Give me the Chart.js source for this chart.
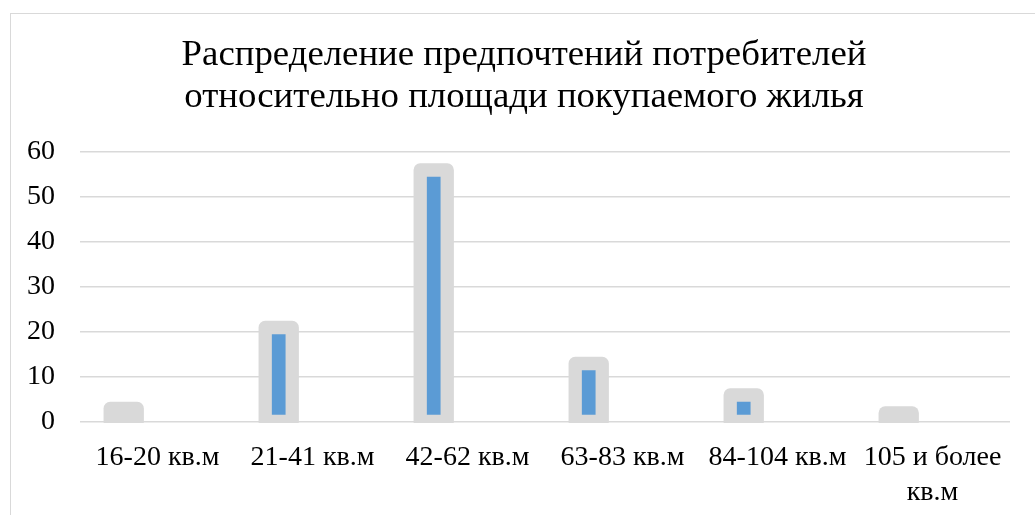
<!DOCTYPE html>
<html>
<head>
<meta charset="utf-8">
<script src="https://cdn.jsdelivr.net/npm/chart.js@4/dist/chart.umd.min.js"></script>
<style>
  html, body { margin: 0; padding: 0; background: #fff; }
  #wrap { position: relative; width: 1035px; height: 515px; overflow: hidden; }
  #frame { position: absolute; left: 10px; top: 13px; width: 1100px; height: 600px;
           border: 1.5px solid #d9d9d9; box-sizing: border-box; }
  #c { position: absolute; left: 0; top: 0; }
</style>
</head>
<body>
<div id="wrap">
  <div id="frame"></div>
  <canvas id="c" width="1035" height="515"></canvas>
</div>
<script>
const titleLines = ['Распределение предпочтений потребителей', 'относительно площади покупаемого жилья'];
const categories = ['16-20 кв.м', '21-41 кв.м', '42-62 кв.м', '63-83 кв.м', '84-104 кв.м', ['105 и более', 'кв.м']];
const series1Values = [3, 21, 56, 13, 6, 2];
const series2Values = [null, null, null, null, null, null]; // empty second series (keeps Excel grouping offset)
const yMin = 0, yMax = 60, yStep = 10;

const FONT = '"Liberation Serif", "Times New Roman", serif';
const GREY = '#d9d9d9';
const BLUE = '#5b9bd5';
const EDGE = 13.3;

const edgePlugin = {
  id: 'thickEdge',
  afterDatasetsDraw(chart) {
    const meta = chart.getDatasetMeta(0);
    const area = chart.chartArea;
    const ctx = chart.ctx;
    ctx.save();
    ctx.beginPath();
    ctx.rect(0, 0, chart.width, area.bottom + 1);
    ctx.clip();
    ctx.strokeStyle = GREY;
    ctx.lineWidth = EDGE;
    ctx.lineJoin = 'round';
    meta.data.forEach(el => {
      const p = el.getProps(['x', 'y', 'base', 'width'], true);
      if (p.y == null || isNaN(p.y)) return;
      const l = p.x - p.width / 2;
      const top = Math.min(p.y, p.base), bot = Math.max(p.y, p.base);
      ctx.strokeRect(l, top, p.width, bot - top);
    });
    ctx.restore();
  }
};

new Chart(document.getElementById('c'), {
  type: 'bar',
  data: {
    labels: categories,
    datasets: [
      { label: 'Ряд 1', data: series1Values, backgroundColor: BLUE, borderWidth: 0,
        categoryPercentage: 0.872, barPercentage: 0.4 },
      { label: 'Ряд 2', data: series2Values, backgroundColor: '#ed7d31', borderWidth: 0,
        categoryPercentage: 0.872, barPercentage: 0.4 }
    ]
  },
  options: {
    responsive: false,
    animation: false,
    layout: { padding: { left: 13, right: 0, top: 0, bottom: 0 } },
    plugins: {
      legend: { display: false },
      tooltip: { enabled: false },
      title: {
        display: true,
        text: titleLines,
        color: '#000',
        font: { family: FONT, size: 36.8, weight: 'normal', lineHeight: 1.141 },
        padding: { top: 34.6, bottom: 33.4 }
      }
    },
    scales: {
      x: {
        afterFit(scale) { scale.height = 93; },
        grid: { display: false },
        border: { display: false },
        ticks: {
          color: '#000',
          font: { family: FONT, size: 28, lineHeight: 1.26 },
          padding: 10,
          maxRotation: 0, autoSkip: false
        }
      },
      y: {
        min: yMin, max: yMax,
        afterFit(scale) { scale.width = 67; },
        grid: { color: GREY, lineWidth: 1.4, drawTicks: false },
        border: { display: false },
        ticks: {
          stepSize: yStep,
          color: '#000',
          font: { family: FONT, size: 28 },
          padding: 25
        }
      },
      yRight: {
        type: 'linear',
        position: 'right',
        afterFit(scale) { scale.width = 25; },
        grid: { display: false, drawTicks: false },
        border: { display: false },
        ticks: { display: false }
      }
    }
  },
  plugins: [edgePlugin]
});
</script>
</body>
</html>
